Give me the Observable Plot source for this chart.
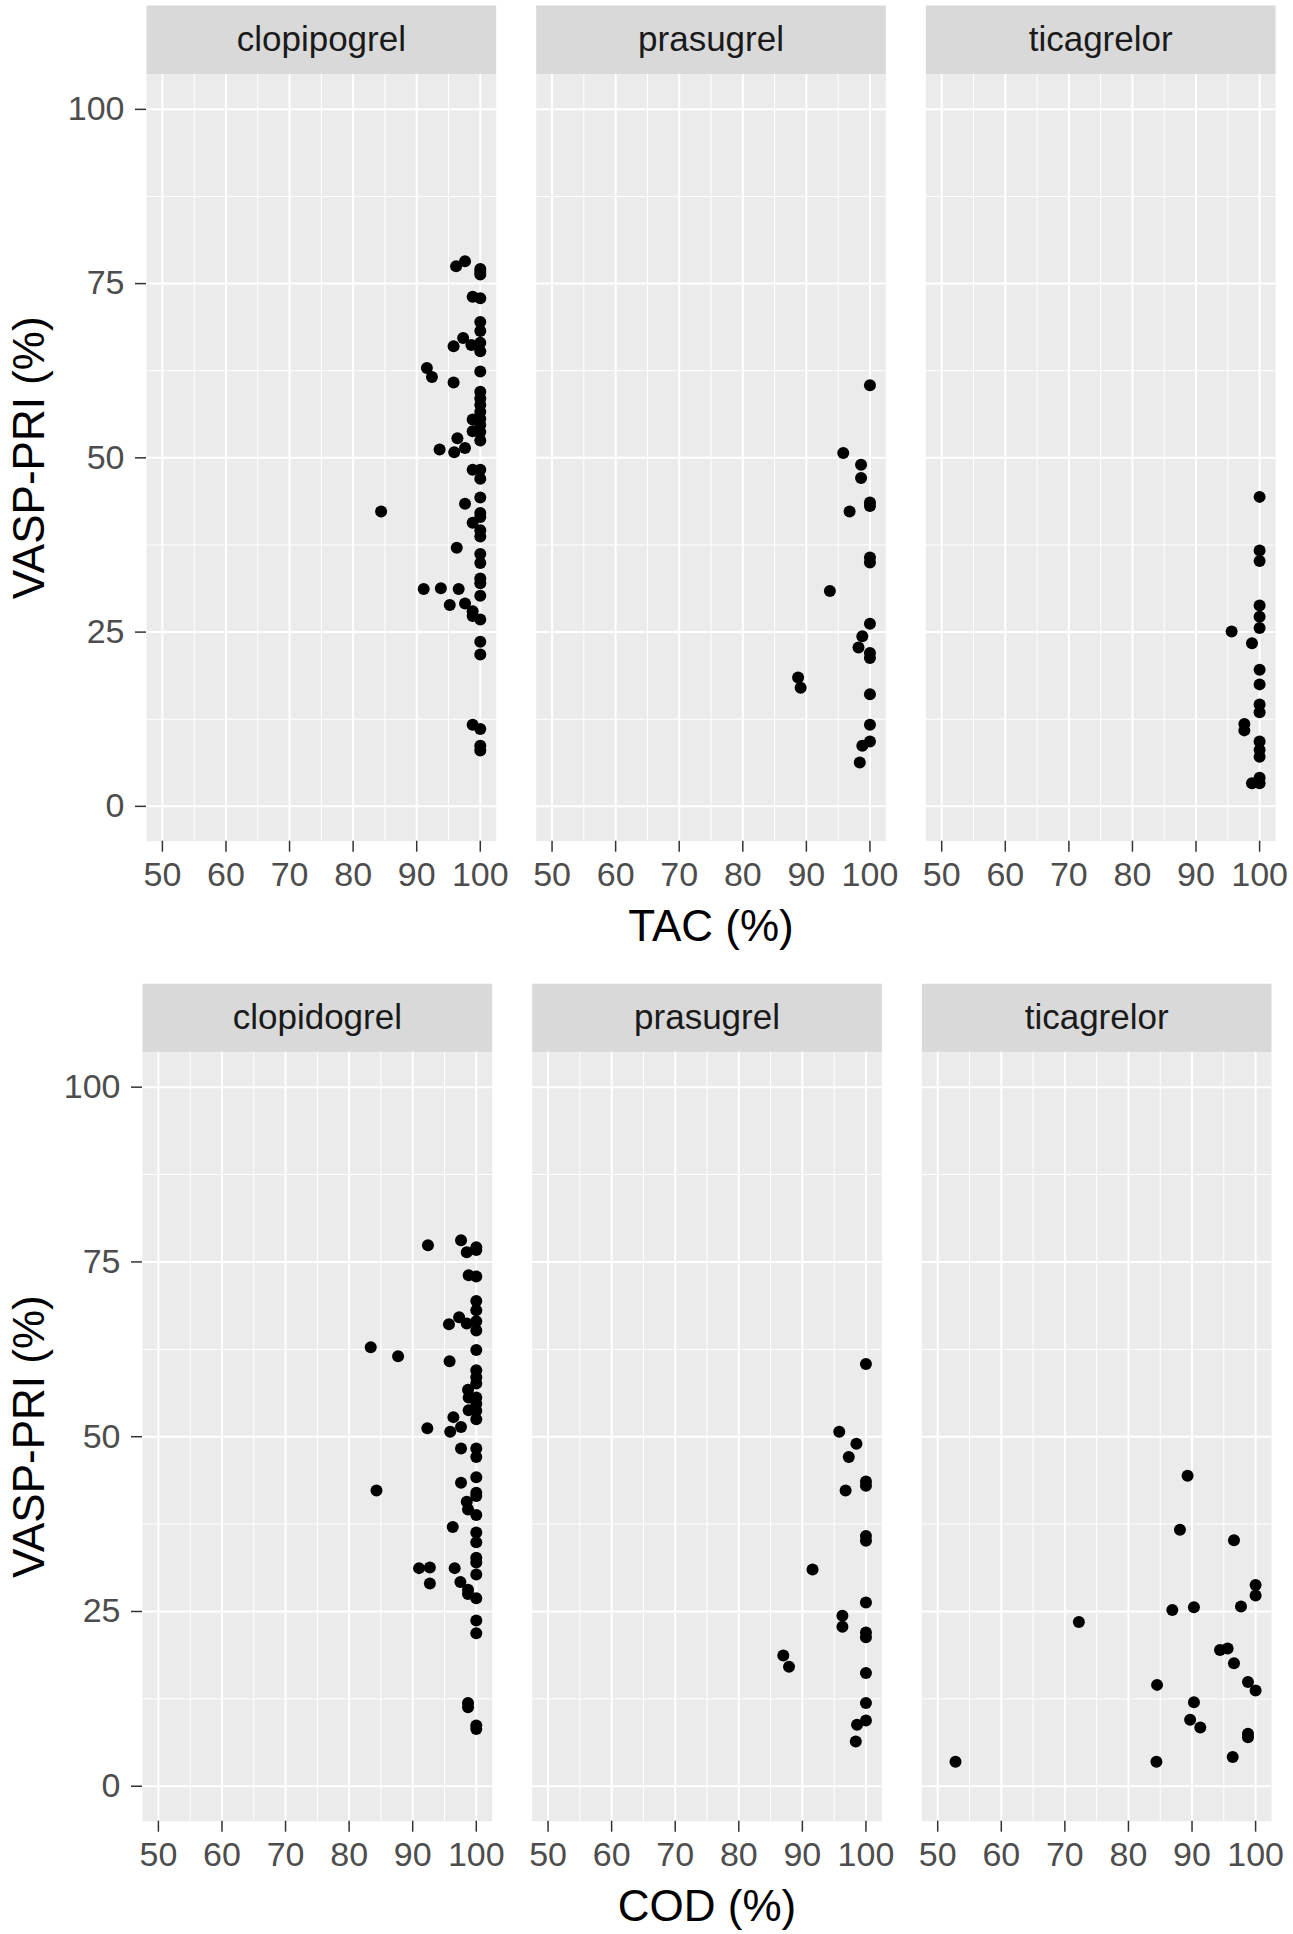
<!DOCTYPE html>
<html>
<head>
<meta charset="utf-8">
<script src="https://cdn.jsdelivr.net/npm/d3@7"></script>
<script src="https://cdn.jsdelivr.net/npm/@observablehq/plot@0.6"></script>
<style>
  html, body { margin: 0; padding: 0; background: #fff; overflow: hidden; }
  svg { display: block; }
</style>
</head>
<body>
<div id="chart"></div>
<script>
// ---------- categories & tick labels ----------
const drugsTop = ["clopipogrel", "prasugrel", "ticagrelor"];
const drugsBottom = ["clopidogrel", "prasugrel", "ticagrelor"];
const xTicks = [50, 60, 70, 80, 90, 100];
const xMinor = [55, 65, 75, 85, 95];
const yTicks = [0, 25, 50, 75, 100];
const yMinor = [12.5, 37.5, 62.5, 87.5];
const yTitle = "VASP-PRI (%)";
const xTitleTop = "TAC (%)";
const xTitleBottom = "COD (%)";

// ---------- series: [x %, VASP-PRI %] ----------
const tacClopidogrel = [
  [96.2,77.5],[97.6,78.2],[100,77.1],[100,76.7],[100,76.3],[98.8,73.1],[100,72.9],[100,69.5],[100,68.2],
  [97.3,67.2],[95.8,66.0],[98.6,66.2],[100,66.5],[100,65.3],[91.6,62.9],[92.4,61.6],[100,62.4],[95.8,60.8],
  [100,59.5],[100,58.5],[100,57.6],[100,56.6],[100,55.6],[100,54.7],[100,53.7],[100,52.5],
  [98.8,55.5],[98.8,53.8],[96.4,52.8],[93.6,51.2],[95.9,50.8],[97.6,51.4],
  [98.8,48.3],[100,48.3],[100,47.0],[100,44.3],[97.6,43.4],[84.4,42.3],[100,42.1],[100,41.5],[98.8,40.7],
  [100,39.6],[100,38.7],[96.3,37.1],[100,36.2],[100,34.9],[100,32.7],[100,32.0],[91.1,31.2],[93.8,31.3],
  [96.6,31.2],[100,30.2],[95.2,28.9],[97.6,29.1],[98.8,28.0],[98.8,27.3],[100,26.8],[100,23.6],[100,21.8],
  [98.8,11.7],[100,11.1],[100,8.7],[100,8.0]
];
const tacPrasugrel = [
  [100,60.4],[95.8,50.7],[98.6,49.0],[98.6,47.1],[100,43.6],[100,43.1],[96.8,42.3],[100,35.7],[100,35.0],
  [93.7,30.9],[100,26.2],[98.8,24.4],[98.2,22.8],[100,22.0],[100,21.3],[88.7,18.5],[89.1,17.0],[100,16.1],
  [100,11.7],[100,9.3],[98.8,8.7],[98.4,6.3]
];
const tacTicagrelor = [
  [100,44.4],[100,36.7],[100,35.2],[100,28.8],[100,27.2],[100,25.6],[95.6,25.1],[98.8,23.4],[100,19.6],
  [100,17.5],[100,14.6],[100,13.5],[97.6,11.8],[97.6,10.9],[100,9.3],[100,8.1],[100,7.1],[100,4.1],
  [98.8,3.3],[100,3.3]
];
const codClopidogrel = [
  [92.4,77.4],[97.6,78.1],[98.5,76.4],[100,77.1],[100,76.7],[98.8,73.1],[100,72.9],[100,69.4],[100,68.1],
  [97.3,67.1],[95.7,66.1],[98.5,66.2],[100,66.5],[100,65.2],[83.4,62.8],[87.7,61.5],[100,62.4],[95.8,60.8],
  [100,59.5],[100,58.5],[100,57.6],[100,55.6],[100,54.7],[100,53.7],[100,52.5],
  [98.7,56.7],[98.8,55.6],[98.8,53.8],[96.4,52.8],[92.3,51.2],[95.9,50.7],[97.6,51.4],
  [97.6,48.3],[100,48.3],[100,47.1],[100,44.2],[97.6,43.4],[84.3,42.3],[100,42.0],[100,41.5],[98.5,40.7],
  [98.7,39.6],[100,38.8],[96.3,37.1],[100,36.3],[100,34.9],[100,32.7],[100,32.0],[91.0,31.2],[92.7,31.3],
  [96.6,31.2],[100,30.3],[92.7,29.0],[97.5,29.2],[98.7,28.1],[98.7,27.5],[100,26.9],[100,23.7],[100,21.9],
  [98.7,11.9],[98.7,11.3],[100,8.7],[100,8.2]
];
const codPrasugrel = [
  [100,60.4],[95.8,50.7],[98.5,49.0],[97.3,47.1],[100,43.6],[100,43.0],[96.8,42.3],[100,35.8],[100,35.1],
  [91.6,31.0],[100,26.3],[96.3,24.4],[96.3,22.8],[100,22.0],[100,21.3],[87.0,18.7],[87.9,17.1],[100,16.2],
  [100,11.9],[100,9.4],[98.6,8.8],[98.4,6.4]
];
const codTicagrelor = [
  [89.3,44.4],[88.1,36.7],[96.6,35.2],[100,28.8],[100,27.3],[86.9,25.2],[90.3,25.6],[97.7,25.7],[72.2,23.5],
  [94.4,19.5],[95.6,19.7],[96.6,17.6],[84.5,14.5],[98.8,14.9],[100,13.7],[90.3,12.0],[89.7,9.5],[91.3,8.4],
  [98.8,7.5],[98.8,7.0],[52.8,3.5],[84.4,3.5],[96.4,4.2]
];

const FONT = "'Liberation Sans', Arial, Helvetica, sans-serif";

function facetRow({drugs, series, xTitle, height, marginTop, marginBottom, marginLeft, marginRight, stripH, yTitleDx}) {
  const panelH = height - marginTop - marginBottom;
  const data = series.flatMap((pts, i) => pts.map(([x, y]) => ({drug: drugs[i], x, y})));
  return Plot.plot({
    width: 1293,
    height,
    marginTop, marginBottom, marginLeft, marginRight,
    style: {fontFamily: FONT, fontSize: "34px", background: "white", overflow: "visible"},
    fx: {domain: drugs, axis: null, label: null, paddingInner: 0.1026, paddingOuter: 0, round: false},
    x: {domain: [47.5, 102.5]},
    y: {domain: [-5, 105]},
    marks: [
      Plot.frame({fill: "#D9D9D9", stroke: null, insetTop: -stripH, insetBottom: panelH}),
      Plot.frame({fill: "#EBEBEB", stroke: null}),
      Plot.gridX(xMinor, {stroke: "white", strokeOpacity: 1, strokeWidth: 1}),
      Plot.gridY(yMinor, {stroke: "white", strokeOpacity: 1, strokeWidth: 1}),
      Plot.gridX(xTicks, {stroke: "white", strokeOpacity: 1, strokeWidth: 2}),
      Plot.gridY(yTicks, {stroke: "white", strokeOpacity: 1, strokeWidth: 2}),
      Plot.axisY(yTicks, {tickSize: 11, tickPadding: 11, fontSize: 34, fill: "#4D4D4D", stroke: "#333333", strokeWidth: 1.5, label: null}),
      Plot.axisX(xTicks, {tickSize: 11, tickPadding: 10, fontSize: 34, fill: "#4D4D4D", stroke: "#333333", strokeWidth: 1.5, label: null}),
      Plot.dot(data, {fx: "drug", x: "x", y: "y", r: 6, fill: "black", stroke: null}),
      Plot.text(drugs, {fx: d => d, text: d => d, frameAnchor: "top", lineAnchor: "middle", dy: -stripH / 2, fontSize: 35, fill: "#1A1A1A"}),
      Plot.text([xTitle], {fx: () => drugs[1], text: d => d, frameAnchor: "bottom", dy: 100, lineAnchor: "bottom", fontSize: 44, fill: "black"}),
      Plot.text([yTitle], {fx: () => drugs[0], text: d => d, frameAnchor: "left", textAnchor: "middle", lineAnchor: "middle", dx: yTitleDx, rotate: -90, fontSize: 44, fill: "black"})
    ]
  });
}

const chart = document.getElementById("chart");
chart.appendChild(facetRow({
  drugs: drugsTop,
  series: [tacClopidogrel, tacPrasugrel, tacTicagrelor],
  xTitle: xTitleTop,
  height: 962, marginTop: 74, marginBottom: 121.3, marginLeft: 146, marginRight: 18,
  stripH: 69, yTitleDx: -117
}));
chart.appendChild(facetRow({
  drugs: drugsBottom,
  series: [codClopidogrel, codPrasugrel, codTicagrelor],
  xTitle: xTitleBottom,
  height: 972, marginTop: 89.7, marginBottom: 113.3, marginLeft: 142, marginRight: 22,
  stripH: 68.5, yTitleDx: -113
}));
</script>
</body>
</html>
